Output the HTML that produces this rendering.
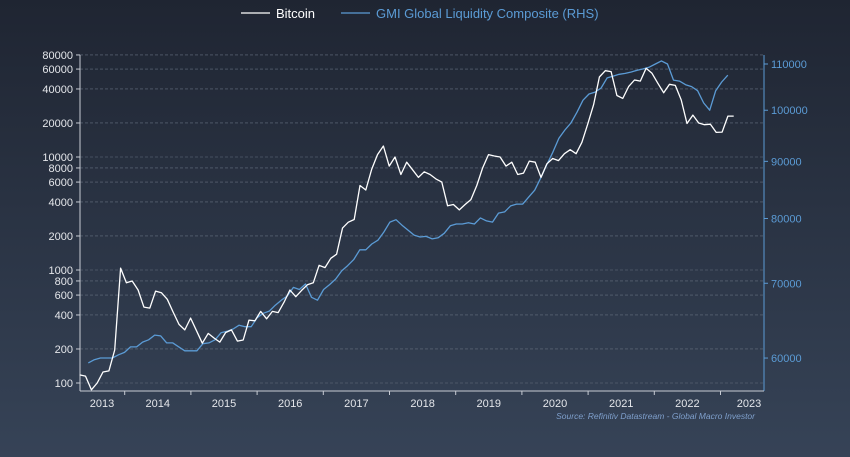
<!DOCTYPE html>
<html><head><meta charset="utf-8"><style>
html,body{margin:0;padding:0;}
body{width:850px;height:457px;overflow:hidden;background:linear-gradient(#1f2532,#364357);font-family:"Liberation Sans",sans-serif;}
svg{display:block}
</style></head><body>
<svg id="chart" width="850" height="457">
<g id="legend">
 <g>
  <line x1="241" y1="13" x2="270" y2="13" stroke="#ffffff" stroke-width="1.3"/>
  <text x="276" y="18" fill="#ffffff" font-size="13">Bitcoin</text>
 </g>
 <g>
  <line x1="341" y1="13" x2="370" y2="13" stroke="#5b9bd5" stroke-width="1.3"/>
  <text x="376" y="18" fill="#5b9bd5" font-size="13">GMI Global Liquidity Composite (RHS)</text>
 </g>
</g>
<g id="grid"></g>
<g id="axes"></g>
<g id="series"></g>
<text x="755" y="419" text-anchor="end" fill="#7f9fcc" font-size="8.5" font-style="italic">Source: Refinitiv Datastream - Global Macro Investor</text>
</svg>
<script>
const leftTicks=[100,200,400,600,800,1000,2000,4000,6000,8000,10000,20000,40000,60000,80000];
const rightTicks=[60000,70000,80000,90000,100000,110000];
const years=[2013,2014,2015,2016,2017,2018,2019,2020,2021,2022,2023];
const btcStart=2013.32, btcEnd=2023.2;
const btcValues=[118,115,87,100,125,128,196,1040,770,800,665,470,460,650,630,550,425,330,295,375,290,225,275,250,230,280,295,235,240,360,355,430,370,430,420,520,665,580,660,740,770,1100,1050,1270,1380,2350,2650,2800,5600,5100,7800,10500,12500,8300,10000,7000,9000,7700,6600,7400,7000,6400,6000,3700,3800,3400,3800,4200,5600,8000,10500,10200,10000,8300,9000,7000,7200,9200,9000,6600,8700,9700,9300,10700,11600,10700,13500,19500,29000,51000,58000,57000,35000,33000,42000,48000,47000,61000,55000,45000,37000,44000,43000,32000,19800,23500,20000,19300,19500,16500,16600,23000,23000];
const gmiStart=2013.45, gmiEnd=2023.11;
const gmiValues=[59400,59800,60000,60000,60000,60400,60700,61400,61400,62000,62300,62900,62800,61900,61900,61400,60900,60900,60900,61800,61900,62300,63200,63400,63700,64200,64000,64000,65200,65800,66100,66900,67600,68200,69400,69100,69900,68000,67600,69100,69800,70600,71800,72600,73500,75000,75000,75900,76500,77800,79400,79800,78900,78100,77300,77000,77100,76700,76900,77600,78800,79100,79100,79300,79100,80100,79600,79400,80900,81100,82100,82400,82400,83600,84800,87000,89400,91700,94400,96000,97400,99600,102100,103400,103800,104700,106900,107300,107700,107900,108200,108600,108900,109300,110000,110700,110000,106400,106200,105400,105000,104100,101500,100000,104100,106000,107500];

const L=80,R=764,T=55,B=391;
const xS=t=>124.7+(t-2014)*66.2;
const yL=v=>383-(Math.log10(v)-2)*113;
const yR=v=>64+Math.log10(110000/v)*1117;
const NS="http://www.w3.org/2000/svg";
function mk(tag,attrs,parent){const e=document.createElementNS(NS,tag);for(const k in attrs)e.setAttribute(k,attrs[k]);parent.appendChild(e);return e;}
const grid=document.getElementById('grid'),axes=document.getElementById('axes'),ser=document.getElementById('series');
leftTicks.forEach(v=>{const y=yL(v);
 const g=mk('line',{x1:L,x2:R,y1:y,y2:y,stroke:'#667080','stroke-width':0.6,'stroke-dasharray':'3,2'},grid);
 
 
 mk('line',{x1:L-4,x2:L,y1:y,y2:y,stroke:'#c8ccd4','stroke-width':1},axes);
 const t=mk('text',{x:L-7,y:y+4,'text-anchor':'end',fill:'#e4e6ea','font-size':'11'},axes);t.textContent=v;
 
 
});
rightTicks.forEach(v=>{const y=yR(v);
 mk('line',{x1:R,x2:R+4,y1:y,y2:y,stroke:'#5b9bd5','stroke-width':1},axes);
 const t=mk('text',{x:R+7,y:y+4,fill:'#5b9bd5','font-size':'11'},axes);t.textContent=v;
 
 
});
const la=mk('line',{x1:L,x2:L,y1:T,y2:B,stroke:'#c8ccd4','stroke-width':1},axes);


const ra=mk('line',{x1:R,x2:R,y1:T,y2:B,stroke:'#5b9bd5','stroke-width':1},axes);


const xa=mk('line',{x1:L,x2:R,y1:B,y2:B,stroke:'#c8ccd4','stroke-width':1},axes);


years.forEach(yr=>{
 if(yr>2013){const x=xS(yr);mk('line',{x1:x,x2:x,y1:B,y2:B+4,stroke:'#c8ccd4','stroke-width':1},axes);}
 const cx=Math.max(xS(yr+0.5),102);
 const t=mk('text',{x:Math.min(cx,749),y:B+16,'text-anchor':'middle',fill:'#e4e6ea','font-size':'11'},axes);t.textContent=yr;
 
 
});
function line(vals,s,e,ys,color,name){
 const n=vals.length;const pts=vals.map((v,i)=>xS(s+(e-s)*i/(n-1)).toFixed(1)+','+ys(v).toFixed(1)).join(' ');
 const p=mk('polyline',{points:pts,fill:'none',stroke:color,'stroke-width':1.3,'stroke-linejoin':'round'},ser);
 
 
}
line(gmiValues,gmiStart,gmiEnd,yR,'#5b9bd5','gmi-liquidity-line');
line(btcValues,btcStart,btcEnd,yL,'#ffffff','bitcoin-line');
</script>
</body></html>
